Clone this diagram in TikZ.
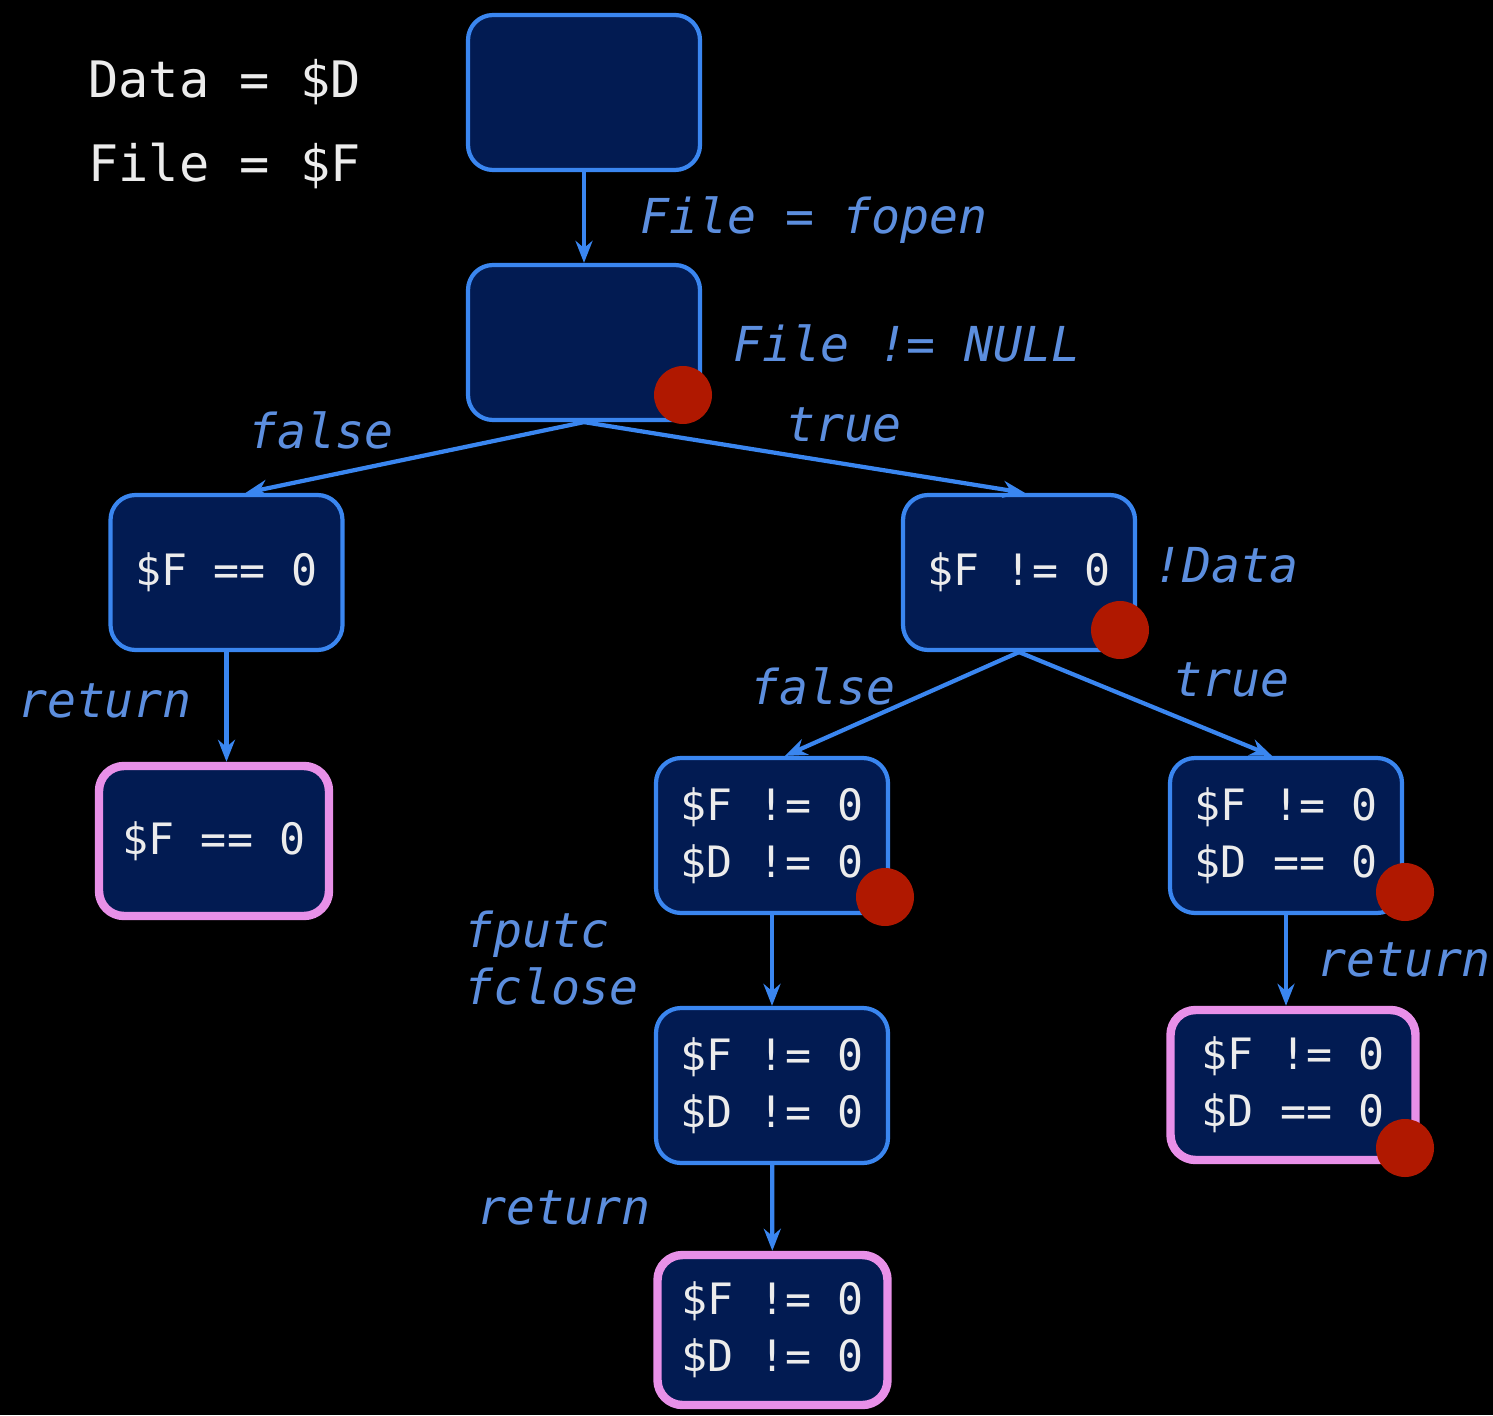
\documentclass[tikz,border=0pt]{standalone}
\usepackage{fontspec}
\setmonofont{DejaVu Sans Mono}
\usetikzlibrary{arrows.meta}

\definecolor{boxfill}{RGB}{2,27,82}
\definecolor{edgeblue}{RGB}{58,134,240}
\definecolor{lblblue}{RGB}{92,142,222}
\definecolor{endpink}{RGB}{232,144,232}
\definecolor{dotred}{RGB}{176,24,0}
\definecolor{boxtext}{RGB}{236,236,236}

\newcommand\boxfont{\ttfamily\fontsize{12.3}{16.2}\selectfont}
\newcommand\lblfont{\ttfamily\itshape\fontsize{13.7}{16.2}\selectfont}
\newcommand\varfont{\ttfamily\fontsize{14.3}{17}\selectfont}

\begin{document}
\begin{tikzpicture}
  [
    box/.style = {draw = edgeblue, line width = 1.2pt, fill = boxfill,
      rounded corners = 0.25cm, minimum width = 2.32cm, minimum height = 1.55cm,
      text = boxtext, align = left, font = \boxfont},
    endbox/.style = {box, draw = endpink, line width = 2.4pt,
      minimum width = 2.3cm, minimum height = 1.5cm},
    dot/.style = {circle, fill = dotred, minimum size = 0.58cm, inner sep = 0pt},
    lbl/.style = {text = lblblue, font = \lblfont, align = left},
    flow/.style = {draw = edgeblue, line width = 1.2pt,
      -{Stealth[length = 0.22cm, width = 0.17cm]}}
  ]
  \path[use as bounding box, fill = black] (0,0) rectangle (14.93,-14.15);

  \node[text = boxtext, font = \varfont] (dvar) at (2.245,-0.82) {Data = \$D};
  \node[text = boxtext, font = \varfont] (fvar) at (2.245,-1.66) {File = \$F};

  \node[box] (start)  at (5.84,-0.925) {};
  \node[box] (open)   at (5.84,-3.425) {};
  \node[box] (nofile) at (2.265,-5.725) {\$F == 0};
  \node[box] (file)   at (10.19,-5.725) {\$F != 0};
  \node[endbox] (retA) at (2.14,-8.41) {\$F == 0};
  \node[box] (data)   at (7.72,-8.355) {\$F != 0\\\$D != 0};
  \node[box] (nodata) at (12.86,-8.355) {\$F != 0\\\$D == 0};
  \node[box] (write)  at (7.72,-10.855) {\$F != 0\\\$D != 0};
  \node[endbox, minimum width = 2.45cm] (retC) at (12.93,-10.85) {\$F != 0\\\$D == 0};
  \node[endbox] (retB) at (7.725,-13.3) {\$F != 0\\\$D != 0};

  % unchecked spots
  \node[dot] (d1) at (6.83,-3.95) {};
  \node[dot] (d2) at (11.2,-6.3) {};
  \node[dot] (d3) at (8.85,-8.97) {};
  \node[dot] (d4) at (14.05,-8.92) {};
  \node[dot] (d5) at (14.05,-11.48) {};

  \draw[flow] (start) -- (open);
  \draw[flow] (open.south) -- ([xshift = 0.19cm]nofile.north);
  \draw[flow] (open.south) -- ([xshift = 0.06cm]file.north);
  \draw[flow] (nofile.south) -- (nofile.south |- retA.north);
  \draw[flow] (file.south) -- ([xshift = 0.13cm]data.north);
  \draw[flow] (file.south) -- ([xshift = -0.14cm]nodata.north);
  \draw[flow] (data) -- (write);
  \draw[flow] (nodata.south) -- (nodata.south |- retC.north);
  \draw[flow] (write) -- (retB);

  \begin{scope}[nodes = lbl]
    \node (fopen)   at (8.14,-2.20) {File = fopen};
    \node (notnull) at (9.07,-3.43) {File != NULL};
    \node (f1)      at (3.21,-4.30) {false};
    \node (t1)      at (8.44,-4.25) {true};
    \node (nodat)   at (12.26,-5.65) {!Data};
    \node (f2)      at (8.23,-6.86) {false};
    \node (t2)      at (12.31,-6.80) {true};
    \node (r1)      at (1.05,-7.01) {return};
    \node[anchor = west] (puts) at (4.52,-9.58) {fputc\\fclose};
    \node (r2)      at (14.04,-9.60) {return};
    \node (r3)      at (5.64,-12.08) {return};
  \end{scope}
\end{tikzpicture}
\end{document}
